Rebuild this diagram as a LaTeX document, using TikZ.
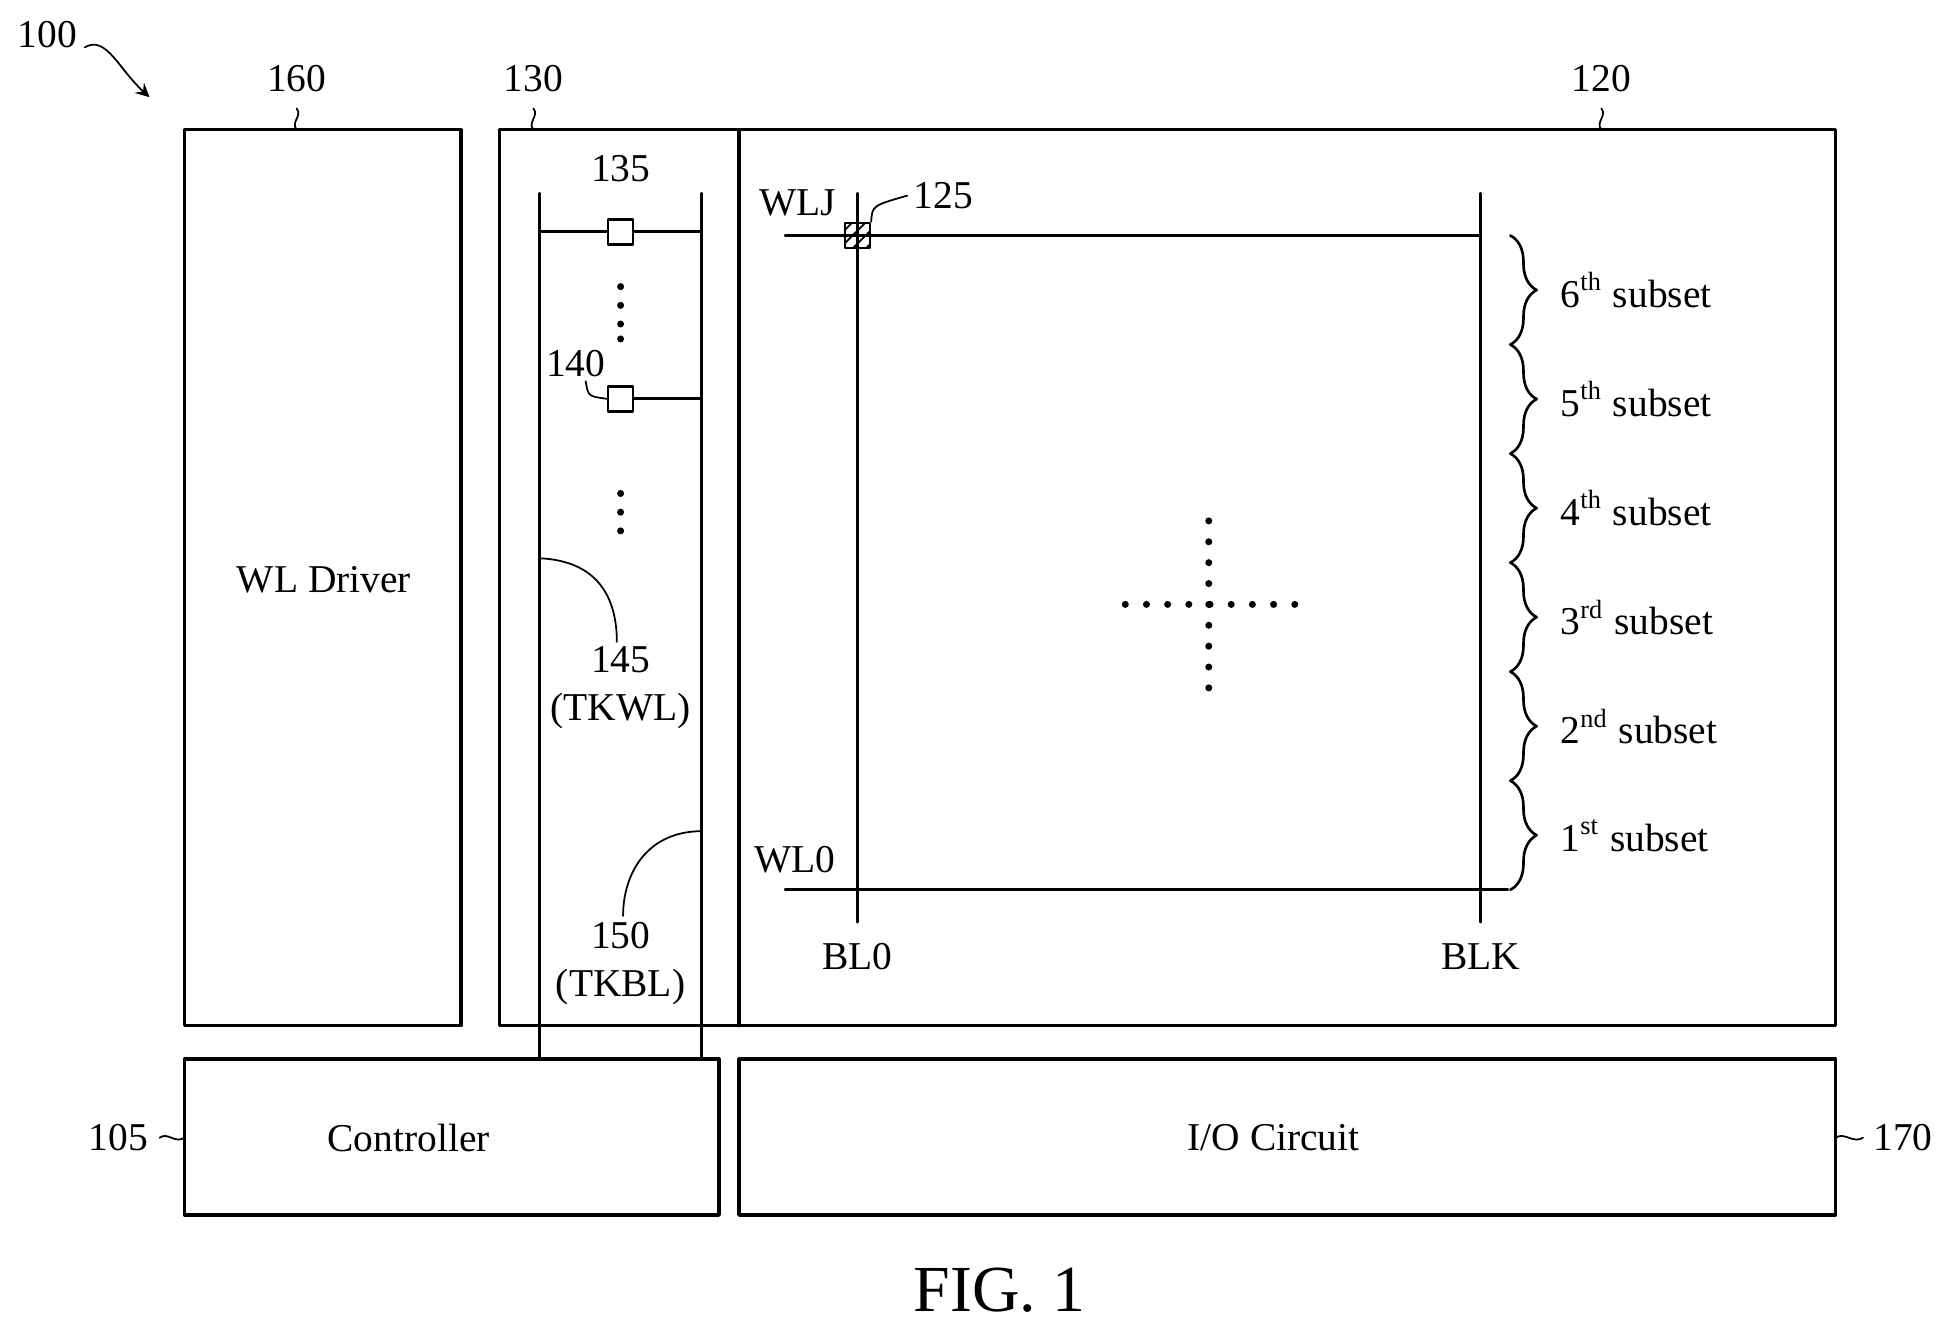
\documentclass[tikz,border=0pt]{standalone}
\usepackage{fontspec}
\setmainfont{Liberation Serif}
\usetikzlibrary{patterns,decorations.pathreplacing}
\tikzset{
  blk/.style={draw,thick,inner sep=0},
  wire/.style={semithick},
  cell/.style={draw,semithick,minimum size=0.2cm,inner sep=0},
  lead/.style={thin},
  brc/.style={semithick,decorate,decoration={brace,amplitude=6pt}},
}
\begin{document}
\begin{tikzpicture}[x=0.01cm,y=-0.01cm,line join=round,line cap=round,font=\fontsize{9}{11}\selectfont]
		\useasboundingbox (0,0) rectangle (1560,1063);
		% blocks
		\draw[blk] (148,104) rectangle (370,823);
		\node (drv) at (260,465) {WL Driver};
		\draw[blk] (401,104) rectangle (1473,823);
		\draw[blk] (593,104)--(593,823);
		\draw[blk] (148,850) rectangle (577,975);
		\node (ctl) at (328,913) {Controller};
		\draw[blk] (593,850) rectangle (1473,975);
		\node (io) at (1022,913) {I/O Circuit};
		% tracking lines
		\coordinate (wlt) at (433,155); \coordinate (wlb) at (433,850);
		\coordinate (blt) at (563,155); \coordinate (blb) at (563,850);
		\draw[wire] (wlt)--(wlb) (blt)--(blb);
		\node[cell] (c135) at (498,186) {};
		\draw[wire] (433,186)--(c135) (c135)--(563,186);
		\node[cell] (c140) at (498,320) {};
		\draw[wire] (c140)--(563,320);
		\foreach \y in {230,245,260,272,396,411,426} \fill (498,\y) circle(0.8pt);
		\node (l135) at (498,135) {135};
		\node (l140) at (462,292) {140};
		\draw[lead] (470,306) .. controls (472,318) .. (c140.west);
		\node[align=center] (l145) at (498,552) {145\\(TKWL)};
		\draw[lead] (433,448) .. controls (480,450) and (495,480) .. (495,515);
		\node[align=center] (l150) at (498,773) {150\\(TKBL)};
		\draw[lead] (563,667) .. controls (520,667) and (500,700) .. (500,735);
		% array
		\draw[wire] (630,189)--(1188,189) (630,714)--(1210,714);
		\draw[wire] (688,155)--(688,740) (1188,155)--(1188,740);
		\node[cell,pattern=north east lines] (c125) at (688,189) {};
		\node (l125) at (757,157) {125};
		\draw[lead] (c125.north east) .. controls (700,165) .. (728,157);
		\node (wlj) at (640,163) {WLJ};
		\node (wl0) at (638,690) {WL0};
		\node (bl0) at (688,768) {BL0};
		\node (blk) at (1188,768) {BLK};
		\foreach \i in {0,...,8} \fill (903+\i*17,485) circle(0.8pt);
		\foreach \i in {0,...,8} \fill (970,418+\i*16.75) circle(0.8pt);
		% subsets
		\foreach \i/\t in {0/6$^{\rm th}$,1/5$^{\rm th}$,2/4$^{\rm th}$,3/3$^{\rm rd}$,4/2$^{\rm nd}$,5/1$^{\rm st}$}
		{
		\draw[brc] (1212,189+\i*87.5)--(1212,276.5+\i*87.5);
		\node[anchor=west] (s\i) at (1240,233+\i*87.5) {\t\ subset};
		}
		% reference numerals
		\node (n100) at (38,28) {100};
		\draw[lead,->,>=stealth] (68,38) .. controls (85,28) and (95,55) .. (120,78);
		\node (n160) at (238,63) {160};
		\node (n130) at (428,63) {130};
		\node (n120) at (1285,63) {120};
		\foreach \x in {238,428,1285}
		  \draw[lead] (\x,87) .. controls (\x+5,93) and (\x-5,98) .. (\x,104);
		\node (n105) at (95,913) {105};
		\draw[lead] (128,913) .. controls (135,908) and (140,918) .. (148,913);
		\node (n170) at (1527,913) {170};
		\draw[lead] (1473,913) .. controls (1480,908) and (1487,918) .. (1495,913);
		\node[font=\fontsize{15}{18}\selectfont] (fig) at (802,1035) {FIG. 1};
\end{tikzpicture}
\end{document}
